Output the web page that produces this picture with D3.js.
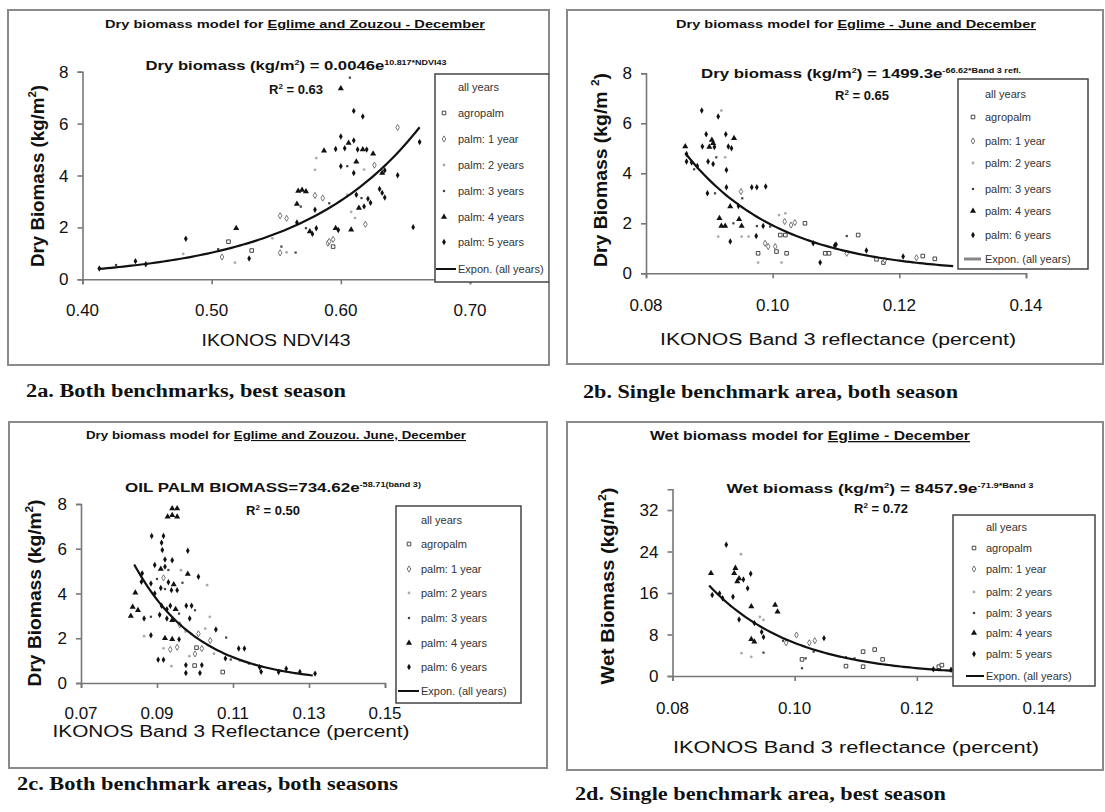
<!DOCTYPE html>
<html>
<head>
<meta charset="utf-8">
<script src="https://cdn.jsdelivr.net/npm/d3@7"></script>
<style>
  body { margin: 0; background: #fff; }
</style>
</head>
<body>
<svg id="chart" width="1105" height="812"></svg>
<script>
// ---- data ----
// series order: agropalm, palm 1 year, 2 years, 3 years, 4 years, 5/6 years

// 2a: NDVI43 vs dry biomass
const a_agro = [[0.513,1.45],[0.531,1.11],[0.594,1.26]];
const a_y1 = [[0.508,0.86],[0.553,2.45],[0.558,2.35],[0.553,1.02],[0.580,3.23],[0.586,3.13],[0.590,1.39],[0.594,1.54],[0.626,4.40],[0.619,2.12],[0.644,5.85],[0.591,1.46]];
const a_y2 = [[0.478,0.98],[0.518,0.64],[0.547,1.58],[0.558,1.04],[0.581,4.67],[0.580,4.22],[0.618,4.23],[0.605,3.25],[0.608,2.60],[0.611,2.36]];
const a_y3 = [[0.426,0.55],[0.505,1.16],[0.554,1.26],[0.565,1.03],[0.569,2.80],[0.573,1.97],[0.591,2.93],[0.607,7.77],[0.605,4.36],[0.616,3.13]];
const a_y4 = [[0.519,1.97],[0.567,3.40],[0.570,3.44],[0.573,3.38],[0.566,2.90],[0.576,1.84],[0.587,4.95],[0.596,1.97],[0.600,7.35],[0.606,5.25],[0.617,5.00],[0.625,4.84],[0.612,4.53],[0.632,4.10],[0.614,2.75],[0.608,1.91]];
const a_y5 = [[0.413,0.42],[0.441,0.70],[0.449,0.58],[0.480,1.56],[0.529,0.80],[0.566,2.19],[0.578,1.75],[0.581,1.97],[0.580,2.68],[0.598,1.90],[0.610,6.49],[0.617,6.27],[0.600,5.50],[0.596,5.02],[0.603,5.05],[0.610,5.35],[0.613,5.00],[0.620,5.00],[0.600,4.36],[0.610,4.10],[0.634,4.20],[0.644,4.01],[0.630,3.48],[0.632,3.33],[0.634,3.15],[0.612,3.26],[0.621,3.10],[0.623,2.95],[0.618,2.81],[0.656,2.01],[0.661,5.29]];

// 2b: band 3 reflectance vs dry biomass, Eglime June + December
const b_agro = [[0.0977,0.80],[0.1006,0.87],[0.1012,1.53],[0.1020,1.53],[0.1022,0.80],[0.1051,2.00],[0.1083,0.80],[0.1089,0.80],[0.1135,1.53],[0.1164,0.56],[0.1175,0.43],[0.1237,0.69],[0.1256,0.58]];
const b_y1 = [[0.0950,3.27],[0.0988,1.20],[0.0993,1.07],[0.1004,1.07],[0.1019,2.07],[0.1029,1.93],[0.1035,2.03],[0.1117,0.80],[0.1177,0.53],[0.1227,0.62]];
const b_y2 = [[0.0919,6.51],[0.0925,4.64],[0.0914,1.47],[0.0951,1.47],[0.0962,1.47],[0.0977,0.43],[0.1014,0.43],[0.1010,2.33],[0.1020,2.40]];
const b_y3 = [[0.0876,4.16],[0.0911,4.64],[0.0909,3.20],[0.0938,2.00],[0.0952,3.00],[0.0975,1.89],[0.0996,1.87],[0.1117,1.49]];
const b_y4 = [[0.0862,5.07],[0.0904,5.33],[0.0900,5.05],[0.0906,5.20],[0.0939,5.40],[0.0933,2.67],[0.0916,2.20],[0.0919,1.89],[0.0925,1.89],[0.0947,2.16],[0.0951,1.89]];
const b_y5 = [[0.0864,4.77],[0.0864,4.47],[0.0872,4.43],[0.0881,4.29],[0.0888,6.51],[0.0895,5.56],[0.0889,5.07],[0.0908,5.05],[0.0898,4.47],[0.0906,4.37],[0.0914,6.27],[0.0926,5.56],[0.0930,5.07],[0.0935,5.00],[0.0927,4.13],[0.0897,3.20],[0.0927,3.44],[0.0946,2.69],[0.0933,1.27],[0.0974,1.49],[0.0967,3.44],[0.0975,3.44],[0.0989,3.47],[0.0985,1.89],[0.1064,1.20],[0.1075,0.43],[0.1098,1.11],[0.1100,1.15],[0.1148,0.91],[0.1206,0.67]];

// 2c: band 3 reflectance vs dry biomass, both areas, both seasons
const c_agro = [[0.1004,1.58],[0.0999,0.78],[0.1073,0.49]];
const c_y1 = [[0.0917,4.70],[0.1009,2.20],[0.0935,1.50],[0.0953,1.60],[0.1018,1.54],[0.0960,2.60],[0.1040,1.90],[0.1000,1.30]];
const c_y2 = [[0.0963,5.04],[0.1032,4.37],[0.1039,2.96],[0.0866,2.09],[0.0990,2.20],[0.1027,2.43],[0.0917,1.55],[0.1050,1.31],[0.0938,0.75],[0.1117,1.00],[0.0975,2.30],[0.0985,1.20]];
const c_y3 = [[0.0930,5.05],[0.0900,4.65],[0.0967,4.48],[0.0921,4.20],[0.1000,3.25],[0.0884,2.96],[0.0958,3.10],[0.1082,2.03],[0.1094,1.05],[0.1142,0.87]];
const c_y4 = [[0.0928,7.43],[0.0940,7.50],[0.0953,7.43],[0.0940,7.80],[0.0953,7.80],[0.0910,5.10],[0.0981,4.87],[0.0944,4.40],[0.0843,4.03],[0.0836,3.40],[0.0850,3.25],[0.0949,3.30],[0.0831,2.99],[0.0940,2.80],[0.0921,2.00],[0.0940,1.95]];
const c_y5 = [[0.0886,6.57],[0.0917,6.57],[0.0912,6.27],[0.0914,5.94],[0.0981,5.91],[0.0921,5.52],[0.0894,5.27],[0.0921,5.20],[0.0940,5.49],[0.1009,4.75],[0.0861,4.90],[0.0859,4.52],[0.0884,4.45],[0.0930,4.50],[0.0953,4.15],[0.0910,4.25],[0.0938,4.15],[0.0894,4.00],[0.0912,3.45],[0.0926,3.30],[0.0935,3.45],[0.0977,3.45],[0.0991,3.45],[0.0866,2.88],[0.0907,3.05],[0.0926,2.88],[0.0986,2.88],[0.0884,2.13],[0.0958,1.95],[0.1055,2.39],[0.1115,1.54],[0.1130,1.54],[0.0903,1.04],[0.0917,1.04],[0.0976,0.80],[0.1018,0.80],[0.1080,1.10],[0.1170,0.70],[0.1174,0.50],[0.0976,0.45],[0.1013,0.45],[0.1220,0.49],[0.1240,0.64],[0.1276,0.49],[0.1316,0.42]];

// 2d: band 3 reflectance vs wet biomass, Eglime December
const d_agro = [[0.1012,3.2],[0.1084,1.9],[0.1112,4.7],[0.1112,1.8],[0.1131,5.1],[0.1144,3.2],[0.1236,1.8],[0.1241,2.1]];
const d_y1 = [[0.0986,6.4],[0.1003,7.9],[0.1024,6.4],[0.1033,6.8]];
const d_y2 = [[0.0912,23.5],[0.0943,11.4],[0.0949,10.8],[0.0913,4.4],[0.0929,3.7]];
const d_y3 = [[0.0949,4.5],[0.0981,6.8],[0.1018,3.4],[0.1012,1.5],[0.1031,4.7],[0.1084,3.6],[0.1098,3.4]];
const d_y4 = [[0.0863,19.8],[0.0903,20.8],[0.0901,19.8],[0.0909,18.8],[0.0906,18.2],[0.0929,13.4],[0.0929,7.1],[0.0934,6.6],[0.0968,13.7],[0.0972,12.4]];
const d_y5 = [[0.0865,15.6],[0.0877,15.9],[0.0888,25.3],[0.0882,15.0],[0.0899,15.3],[0.0916,18.6],[0.0928,19.7],[0.0923,16.9],[0.0909,10.9],[0.0934,10.2],[0.0946,8.5],[0.0949,7.5],[0.1048,7.3],[0.1227,1.3],[0.1256,1.2]];

// exponential fits shown on each panel: y = a * e^(b x)
const fitA = [0.0046, 10.817, 0.413, 0.661];
const fitB = [1499.3, -66.62, 0.0862, 0.1285];
const fitC = [734.62, -58.71, 0.0840, 0.1310];
const fitD = [8457.9, -71.9, 0.0860, 0.1258];

// tick labels
const xTicksA = [0.40, 0.50, 0.60, 0.70];
const xTicksB = [0.08, 0.10, 0.12, 0.14];
const xTicksC = [0.07, 0.09, 0.11, 0.13, 0.15];
const xTicksD = [0.08, 0.10, 0.12, 0.14];
const yTicks8 = [0, 2, 4, 6, 8];
const yTicksD = [0, 8, 16, 24, 32];

const legendA = ["all years", "agropalm", "palm: 1 year", "palm: 2 years", "palm: 3 years", "palm: 4 years", "palm: 5 years", "Expon. (all years)"];
const legendB = ["all years", "agropalm", "palm: 1 year", "palm: 2 years", "palm: 3 years", "palm: 4 years", "palm: 6 years", "Expon. (all years)"];
const legendC = ["all years", "agropalm", "palm: 1 year", "palm: 2 years", "palm: 3 years", "palm: 4 years", "palm: 6 years", "Expon. (all years)"];
const legendD = ["all years", "agropalm", "palm: 1 year", "palm: 2 years", "palm: 3 years", "palm: 4 years", "palm: 5 years", "Expon. (all years)"];

// ---- drawing ----
const svg = d3.select("#chart");
const SANS = "'Liberation Sans', Arial, sans-serif";
const SERIF = "'Liberation Serif', 'Times New Roman', serif";

// text with parts: plain strings, {s: superscript}, {u: underlined}
function rich(g, parts, o) {
  const t = g.append("text")
    .attr("x", o.x).attr("y", o.y)
    .attr("text-anchor", o.anchor || "middle")
    .attr("font-family", o.family || SANS)
    .attr("font-size", o.size)
    .attr("font-weight", o.bold ? "bold" : "normal")
    .attr("fill", o.fill || "#111");
  if (o.rotate) t.attr("transform", "rotate(-90," + o.x + "," + o.y + ")");
  if (o.len) t.attr("textLength", o.len).attr("lengthAdjust", "spacingAndGlyphs");
  let up = false;
  (Array.isArray(parts) ? parts : [parts]).forEach(p => {
    const sp = t.append("tspan");
    if (typeof p === "string") {
      sp.text(p);
      if (up) { sp.attr("dy", o.size * 0.42); up = false; }
    } else if (p.s !== undefined) {
      sp.text(p.s).attr("font-size", o.supSize || o.size * 0.6);
      if (!up) { sp.attr("dy", -o.size * 0.42); up = true; }
    } else if (p.u !== undefined) {
      sp.text(p.u).style("text-decoration", "underline");
    }
  });
  return t;
}

function marker(g, k, x, y) {
  const sym = [
    [d3.symbolSquare, 13, "#fff", "#333"],
    [d3.symbolDiamond, 11, "#fff", "#666"],
    [d3.symbolCircle, 6, "#aaa", "none"],
    [d3.symbolSquare, 5, "#444", "none"],
    [d3.symbolTriangle, 16, "#111", "none"],
    [d3.symbolDiamond, 12, "#111", "none"]
  ][k];
  g.append("path")
    .attr("d", d3.symbol().type(sym[0]).size(sym[1])())
    .attr("transform", "translate(" + x + "," + y + ")")
    .attr("fill", sym[2])
    .attr("stroke", sym[3])
    .attr("stroke-width", 0.9);
}

const panels = [
  {
    box: [8, 10, 549, 365], xr: [82.5, 470], yr: [279.3, 71.7], xd: [0.40, 0.70], yd: [0, 8],
    xt: xTicksA, yt: yTicks8, tickY: 316,
    series: [a_agro, a_y1, a_y2, a_y3, a_y4, a_y5], fit: fitA,
    title: ["Dry biomass model for ", {u: "Eglime and Zouzou - December"}], titlePos: [295, 28, 380, 11],
    eq: ["Dry biomass (kg/m", {s: "2"}, ") = 0.0046e", {s: "10.817*NDVI43"}], eqPos: [296, 70, 301],
    r2: ["R", {s: "2"}, " = 0.63"], r2Pos: [296, 94],
    ylab: ["Dry Biomass (kg/m", {s: "2"}, ")"], ylabPos: [38, 176, 182],
    xlab: "IKONOS NDVI43", xlabPos: [276, 346, 149],
    legend: legendA, leg: [435, 74, 549, 282], legRows: [87, 113, 139, 165, 191, 217, 242, 269], legMx: 444, legTx: 458, legLine: [436, 456],
    caption: "2a. Both benchmarks, best season", capPos: [26, 397, 320]
  },
  {
    box: [567, 10, 1103, 364], xr: [646, 1026], yr: [273.3, 73.3], xd: [0.08, 0.14], yd: [0, 8],
    xt: xTicksB, yt: yTicks8, tickY: 311,
    series: [b_agro, b_y1, b_y2, b_y3, b_y4, b_y5], fit: fitB,
    title: ["Dry biomass model for ", {u: "Eglime - June and December"}], titlePos: [856, 28, 360, 11],
    eq: ["Dry biomass (kg/m", {s: "2"}, ") = 1499.3e", {s: "-66.62*Band 3 refl."}], eqPos: [861, 78, 320],
    r2: ["R", {s: "2"}, " = 0.65"], r2Pos: [862, 100],
    ylab: ["Dry Biomass (kg/m ", {s: "2"}, ")"], ylabPos: [601, 170, 194],
    xlab: "IKONOS Band 3 reflectance (percent)", xlabPos: [838, 345, 356],
    legend: legendB, leg: [958, 79, 1088, 269], legRows: [94, 117, 141, 163, 189, 211, 235, 259], legMx: 973, legTx: 985, legLine: [964, 981],
    caption: "2b. Single benchmark area, both season", capPos: [583, 398, 375]
  },
  {
    box: [9, 422, 547, 768], xr: [81, 385], yr: [683, 504], xd: [0.07, 0.15], yd: [0, 8],
    xt: xTicksC, yt: yTicks8, tickY: 719,
    series: [c_agro, c_y1, c_y2, c_y3, c_y4, c_y5], fit: fitC,
    title: ["Dry biomass model for ", {u: "Eglime and Zouzou. June, December"}], titlePos: [276, 439, 380, 11],
    eq: ["OIL PALM BIOMASS=734.62e", {s: "-58.71(band 3)"}], eqPos: [273, 492, 296],
    r2: ["R", {s: "2"}, " = 0.50"], r2Pos: [273, 515],
    ylab: ["Dry Biomass (kg/m", {s: "2"}, ")"], ylabPos: [35, 593, 187],
    xlab: "IKONOS Band 3 Reflectance (percent)", xlabPos: [231, 737, 357],
    legend: legendC, leg: [396, 506, 521, 703], legRows: [520, 544, 569, 593, 618, 643, 667, 691], legMx: 409, legTx: 421, legLine: [398, 419],
    caption: "2c. Both benchmark areas, both seasons", capPos: [17, 790, 381]
  },
  {
    box: [567, 422, 1103, 770], xr: [672.5, 1039], yr: [676, 489.3], xd: [0.08, 0.14], yd: [0, 36],
    xt: xTicksD, yt: yTicksD, tickY: 714,
    series: [d_agro, d_y1, d_y2, d_y3, d_y4, d_y5], fit: fitD,
    title: ["Wet biomass model for ", {u: "Eglime - December"}], titlePos: [810, 440, 320, 13],
    eq: ["Wet biomass (kg/m", {s: "2"}, ") = 8457.9e", {s: "-71.9*Band 3"}], eqPos: [880, 493, 307],
    r2: ["R", {s: "2"}, " = 0.72"], r2Pos: [881, 513],
    ylab: ["Wet Biomass (kg/m", {s: "2"}, ")"], ylabPos: [608, 586, 197],
    xlab: "IKONOS Band 3 reflectance (percent)", xlabPos: [856, 753, 366],
    legend: legendD, leg: [953, 515, 1095, 686], legRows: [527, 548, 569, 592, 613, 633, 654, 676], legMx: 974, legTx: 986, legLine: [966, 984],
    caption: "2d. Single benchmark area, best season", capPos: [575, 800, 371]
  }
];

panels.forEach((p, i) => {
  const g = svg.append("g");
  const [bx0, by0, bx1, by1] = p.box;

  g.append("clipPath").attr("id", "clip" + i)
    .append("rect").attr("x", bx0).attr("y", by0).attr("width", bx1 - bx0).attr("height", by1 - by0);

  g.append("rect")
    .attr("x", bx0).attr("y", by0).attr("width", bx1 - bx0).attr("height", by1 - by0)
    .attr("fill", "#fff").attr("stroke", "#8a8a8a").attr("stroke-width", 2);

  const x = d3.scaleLinear().domain(p.xd).range(p.xr);
  const y = d3.scaleLinear().domain(p.yd).range(p.yr);

  // axes
  const xAxis = g.append("g").attr("transform", "translate(0," + p.yr[0] + ")")
    .call(d3.axisBottom(x).tickValues(p.xt).tickSize(5).tickFormat(""));
  const yAxis = g.append("g").attr("transform", "translate(" + p.xr[0] + ",0)")
    .call(d3.axisLeft(y).tickValues(p.yt).tickSize(5).tickFormat(""));
  [xAxis, yAxis].forEach(a => {
    a.selectAll("path,line").attr("stroke", "#777").attr("stroke-width", 1.6);
  });

  p.xt.forEach(v => {
    g.append("text").attr("x", x(v)).attr("y", p.tickY)
      .attr("text-anchor", "middle").attr("font-family", SANS).attr("font-size", 17)
      .attr("fill", "#111").text(d3.format(".2f")(v));
  });
  p.yt.forEach(v => {
    g.append("text").attr("x", p.xr[0] - 14).attr("y", y(v) + 6)
      .attr("text-anchor", "end").attr("font-family", SANS).attr("font-size", 17)
      .attr("fill", "#111").text(v);
  });

  // scatter points
  const pts = g.append("g");
  p.series.forEach((s, k) => s.forEach(d => marker(pts, k, x(d[0]), y(d[1]))));

  // fitted curve
  const [fa, fb, f0, f1] = p.fit;
  const xs = d3.range(f0, f1, (f1 - f0) / 80).concat([f1]);
  g.append("path")
    .datum(xs)
    .attr("fill", "none").attr("stroke", "#111").attr("stroke-width", 2.2)
    .attr("d", d3.line().x(v => x(v)).y(v => y(fa * Math.exp(fb * v))));

  // texts
  rich(g, p.title, {x: p.titlePos[0], y: p.titlePos[1], len: p.titlePos[2], size: p.titlePos[3], bold: true});
  rich(g, p.eq, {x: p.eqPos[0], y: p.eqPos[1], len: p.eqPos[2], size: 13, bold: true, supSize: 7});
  rich(g, p.r2, {x: p.r2Pos[0], y: p.r2Pos[1], size: 13, bold: true, supSize: 8});
  rich(g, p.ylab, {x: p.ylabPos[0] + 6, y: p.ylabPos[1], len: p.ylabPos[2], size: 18, bold: true, rotate: true, supSize: 11});
  rich(g, p.xlab, {x: p.xlabPos[0], y: p.xlabPos[1], len: p.xlabPos[2], size: 16});

  // legend
  const lg = g.append("g").attr("clip-path", "url(#clip" + i + ")");
  const [lx0, ly0, lx1, ly1] = p.leg;
  lg.append("rect").attr("x", lx0).attr("y", ly0).attr("width", lx1 - lx0).attr("height", ly1 - ly0)
    .attr("fill", "#fff").attr("stroke", "#444").attr("stroke-width", 1.5);
  p.legend.forEach((name, j) => {
    const ry = p.legRows[j];
    if (j >= 1 && j <= 6) marker(lg, j - 1, p.legMx, ry);
    if (j === 7) {
      lg.append("line").attr("x1", p.legLine[0]).attr("x2", p.legLine[1]).attr("y1", ry).attr("y2", ry)
        .attr("stroke", i === 1 ? "#888" : "#111").attr("stroke-width", i === 1 ? 3 : 2);
    }
    lg.append("text").attr("x", p.legTx).attr("y", ry + 4)
      .attr("font-family", SANS).attr("font-size", 11).attr("fill", "#333").text(name);
  });

  // caption below the frame
  svg.append("text").attr("x", p.capPos[0]).attr("y", p.capPos[1])
    .attr("font-family", SERIF).attr("font-size", 18).attr("font-weight", "bold").attr("fill", "#111")
    .attr("textLength", p.capPos[2]).attr("lengthAdjust", "spacingAndGlyphs")
    .text(p.caption);
});
</script>
</body>
</html>
